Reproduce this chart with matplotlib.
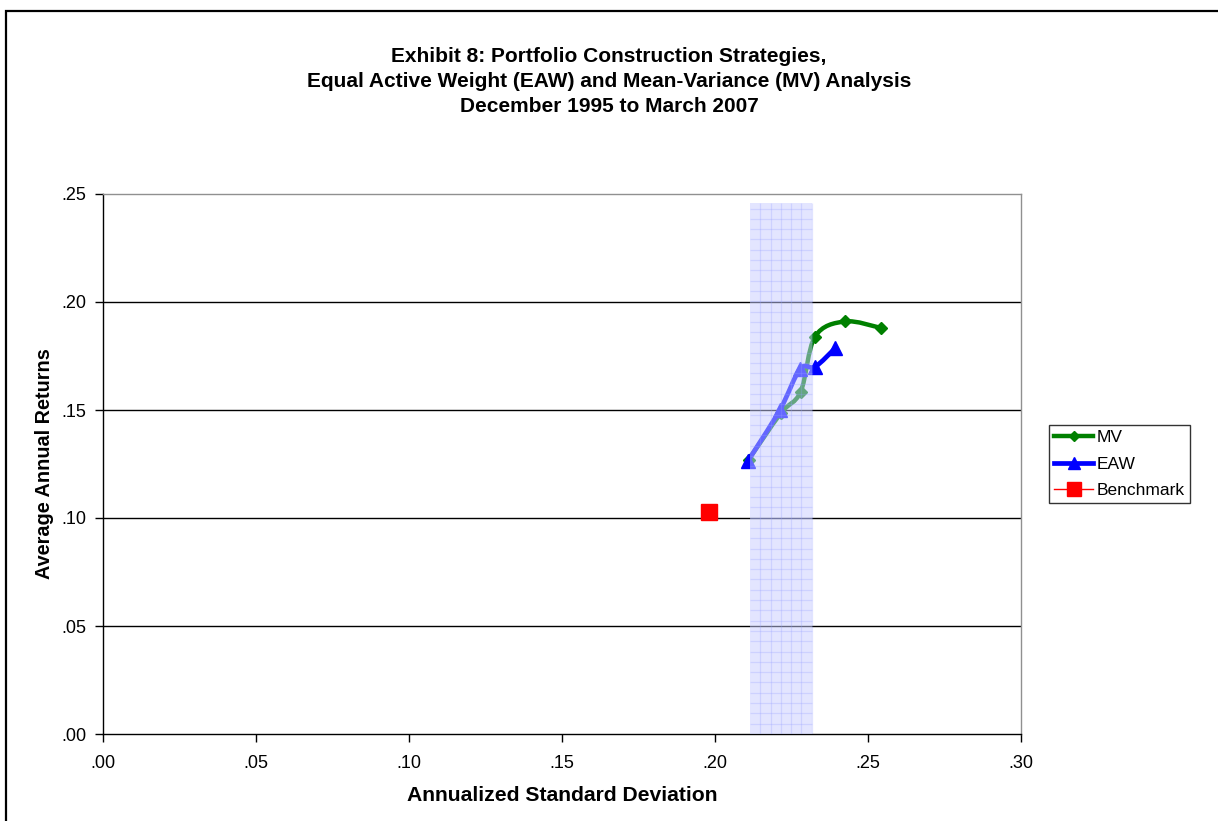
import numpy as np
import matplotlib
matplotlib.use("Agg")
import matplotlib.pyplot as plt
from matplotlib.path import Path
from matplotlib.patches import PathPatch, Rectangle
from matplotlib.lines import Line2D

plt.rcParams["font.family"] = ["Liberation Sans", "DejaVu Sans"]

# ---- data -------------------------------------------------------------
mv_risk = [0.211, 0.2215, 0.228, 0.2327, 0.2425, 0.2542]
mv_ret = [0.127, 0.1485, 0.1585, 0.184, 0.191, 0.188]

eaw_risk = [0.2108, 0.2212, 0.2278, 0.2327, 0.2392]
eaw_ret = [0.1265, 0.150, 0.169, 0.170, 0.1785]

bench_risk = [0.198]
bench_ret = [0.103]

band_lo, band_hi, band_top = 0.2114, 0.2317, 0.2458

x_ticks = [0.00, 0.05, 0.10, 0.15, 0.20, 0.25, 0.30]
y_ticks = [0.00, 0.05, 0.10, 0.15, 0.20, 0.25]
tick_labels_x = [".00", ".05", ".10", ".15", ".20", ".25", ".30"]
tick_labels_y = [".00", ".05", ".10", ".15", ".20", ".25"]

title_lines = ["Exhibit 8: Portfolio Construction Strategies,",
               "Equal Active Weight (EAW) and Mean-Variance (MV) Analysis",
               "December 1995 to March 2007"]


def smooth_path(xs, ys):
    """Catmull-Rom style cubic Bezier path through the given points."""
    pts = np.column_stack([xs, ys]).astype(float)
    n = len(pts)
    verts = [pts[0]]
    codes = [Path.MOVETO]
    for i in range(n - 1):
        p0 = pts[i - 1] if i > 0 else pts[i]
        p1 = pts[i]
        p2 = pts[i + 1]
        p3 = pts[i + 2] if i + 2 < n else pts[i + 1]
        c1 = p1 + (p2 - p0) / 6.0
        c2 = p2 - (p3 - p1) / 6.0
        verts += [c1, c2, p2]
        codes += [Path.CURVE4] * 3
    return Path(verts, codes)


W, H = 1218, 821
fig = plt.figure(figsize=(W / 100, H / 100), dpi=100)
ax = fig.add_axes([103 / W, 1 - 734 / H, (1021 - 103) / W, (734 - 194) / H])

ax.set_xlim(0, 0.30)
ax.set_ylim(0, 0.25)

# horizontal gridlines
for yv in y_ticks[1:-1]:
    ax.axhline(yv, color="black", lw=1.0, zorder=1)

# series
mv_col, eaw_col, bm_col = "#008000", "#0000FF", "#FF0000"
ax.add_patch(PathPatch(smooth_path(mv_risk, mv_ret), facecolor="none",
                       edgecolor=mv_col, lw=3.2, capstyle="round",
                       joinstyle="round", zorder=3))
ax.plot(mv_risk, mv_ret, ls="none", marker="D", ms=6, color=mv_col, zorder=3)

ax.add_patch(PathPatch(smooth_path(eaw_risk, eaw_ret), facecolor="none",
                       edgecolor=eaw_col, lw=3.4, capstyle="round",
                       joinstyle="round", zorder=4))
ax.plot(eaw_risk, eaw_ret, ls="none", marker="^", ms=9.5, color=eaw_col,
        zorder=4)

ax.plot(bench_risk, bench_ret, ls="-", lw=1, marker="s", ms=11,
        color=bm_col, zorder=4)

# shaded band with a fine grid pattern, laid over the lines
band = Rectangle((band_lo, 0), band_hi - band_lo, band_top,
                 facecolor=(201 / 255, 205 / 255, 1.0), alpha=0.5,
                 edgecolor="none", zorder=6)
ax.add_patch(band)
dx = 0.00337
dy = 0.00477
grid_kw = dict(color=(150 / 255, 160 / 255, 1.0), alpha=0.28, lw=0.9,
               zorder=7, solid_capstyle="butt")
for xv in np.arange(band_lo + dx, band_hi, dx):
    ax.plot([xv, xv], [0, band_top], **grid_kw)
for yv in np.arange(dy, band_top, dy):
    ax.plot([band_lo, band_hi], [yv, yv], **grid_kw)

# axes styling
for side in ("left", "bottom"):
    ax.spines[side].set_color("black")
    ax.spines[side].set_linewidth(1.0)
for side in ("top", "right"):
    ax.spines[side].set_color("#909090")
    ax.spines[side].set_linewidth(1.0)

ax.set_xticks(x_ticks)
ax.set_xticklabels(tick_labels_x)
ax.set_yticks(y_ticks)
ax.set_yticklabels(tick_labels_y)
ax.tick_params(direction="out", length=6, width=1, labelsize=13,
               colors="black")
ax.tick_params(axis="x", pad=9)
ax.tick_params(axis="y", pad=6)

ax.set_xlabel("Annualized Standard Deviation", fontsize=15.2,
              fontweight="bold", labelpad=10)
ax.set_ylabel("Average Annual Returns", fontsize=14.3, fontweight="bold",
              labelpad=5)

for i, line in enumerate(title_lines):
    fig.text(609 / W, 1 - (62 + 25 * i) / H, line, ha="center",
             va="baseline", fontsize=15, fontweight="bold")

# legend
handles = [
    Line2D([], [], color=mv_col, lw=3.2, marker="D", ms=5),
    Line2D([], [], color=eaw_col, lw=3.4, marker="^", ms=8),
    Line2D([], [], color=bm_col, lw=1, marker="s", ms=10),
]
leg = fig.legend(handles, ["MV", "EAW", "Benchmark"], loc="upper left",
                 bbox_to_anchor=(1049 / W, 1 - 425 / H), borderaxespad=0,
                 frameon=True, fancybox=False, edgecolor="black",
                 fontsize=12.5, handlelength=2.25, handletextpad=0.2,
                 borderpad=0.3, labelspacing=0.64)
leg.get_frame().set_linewidth(1.0)

# outer frame around the chart
fig.patches.append(Rectangle((6 / W, -0.05), 1.2, 1 - 11 / H + 0.05,
                             transform=fig.transFigure, fill=False,
                             edgecolor="black", lw=1.6))

fig.savefig("out.png", dpi=100)
